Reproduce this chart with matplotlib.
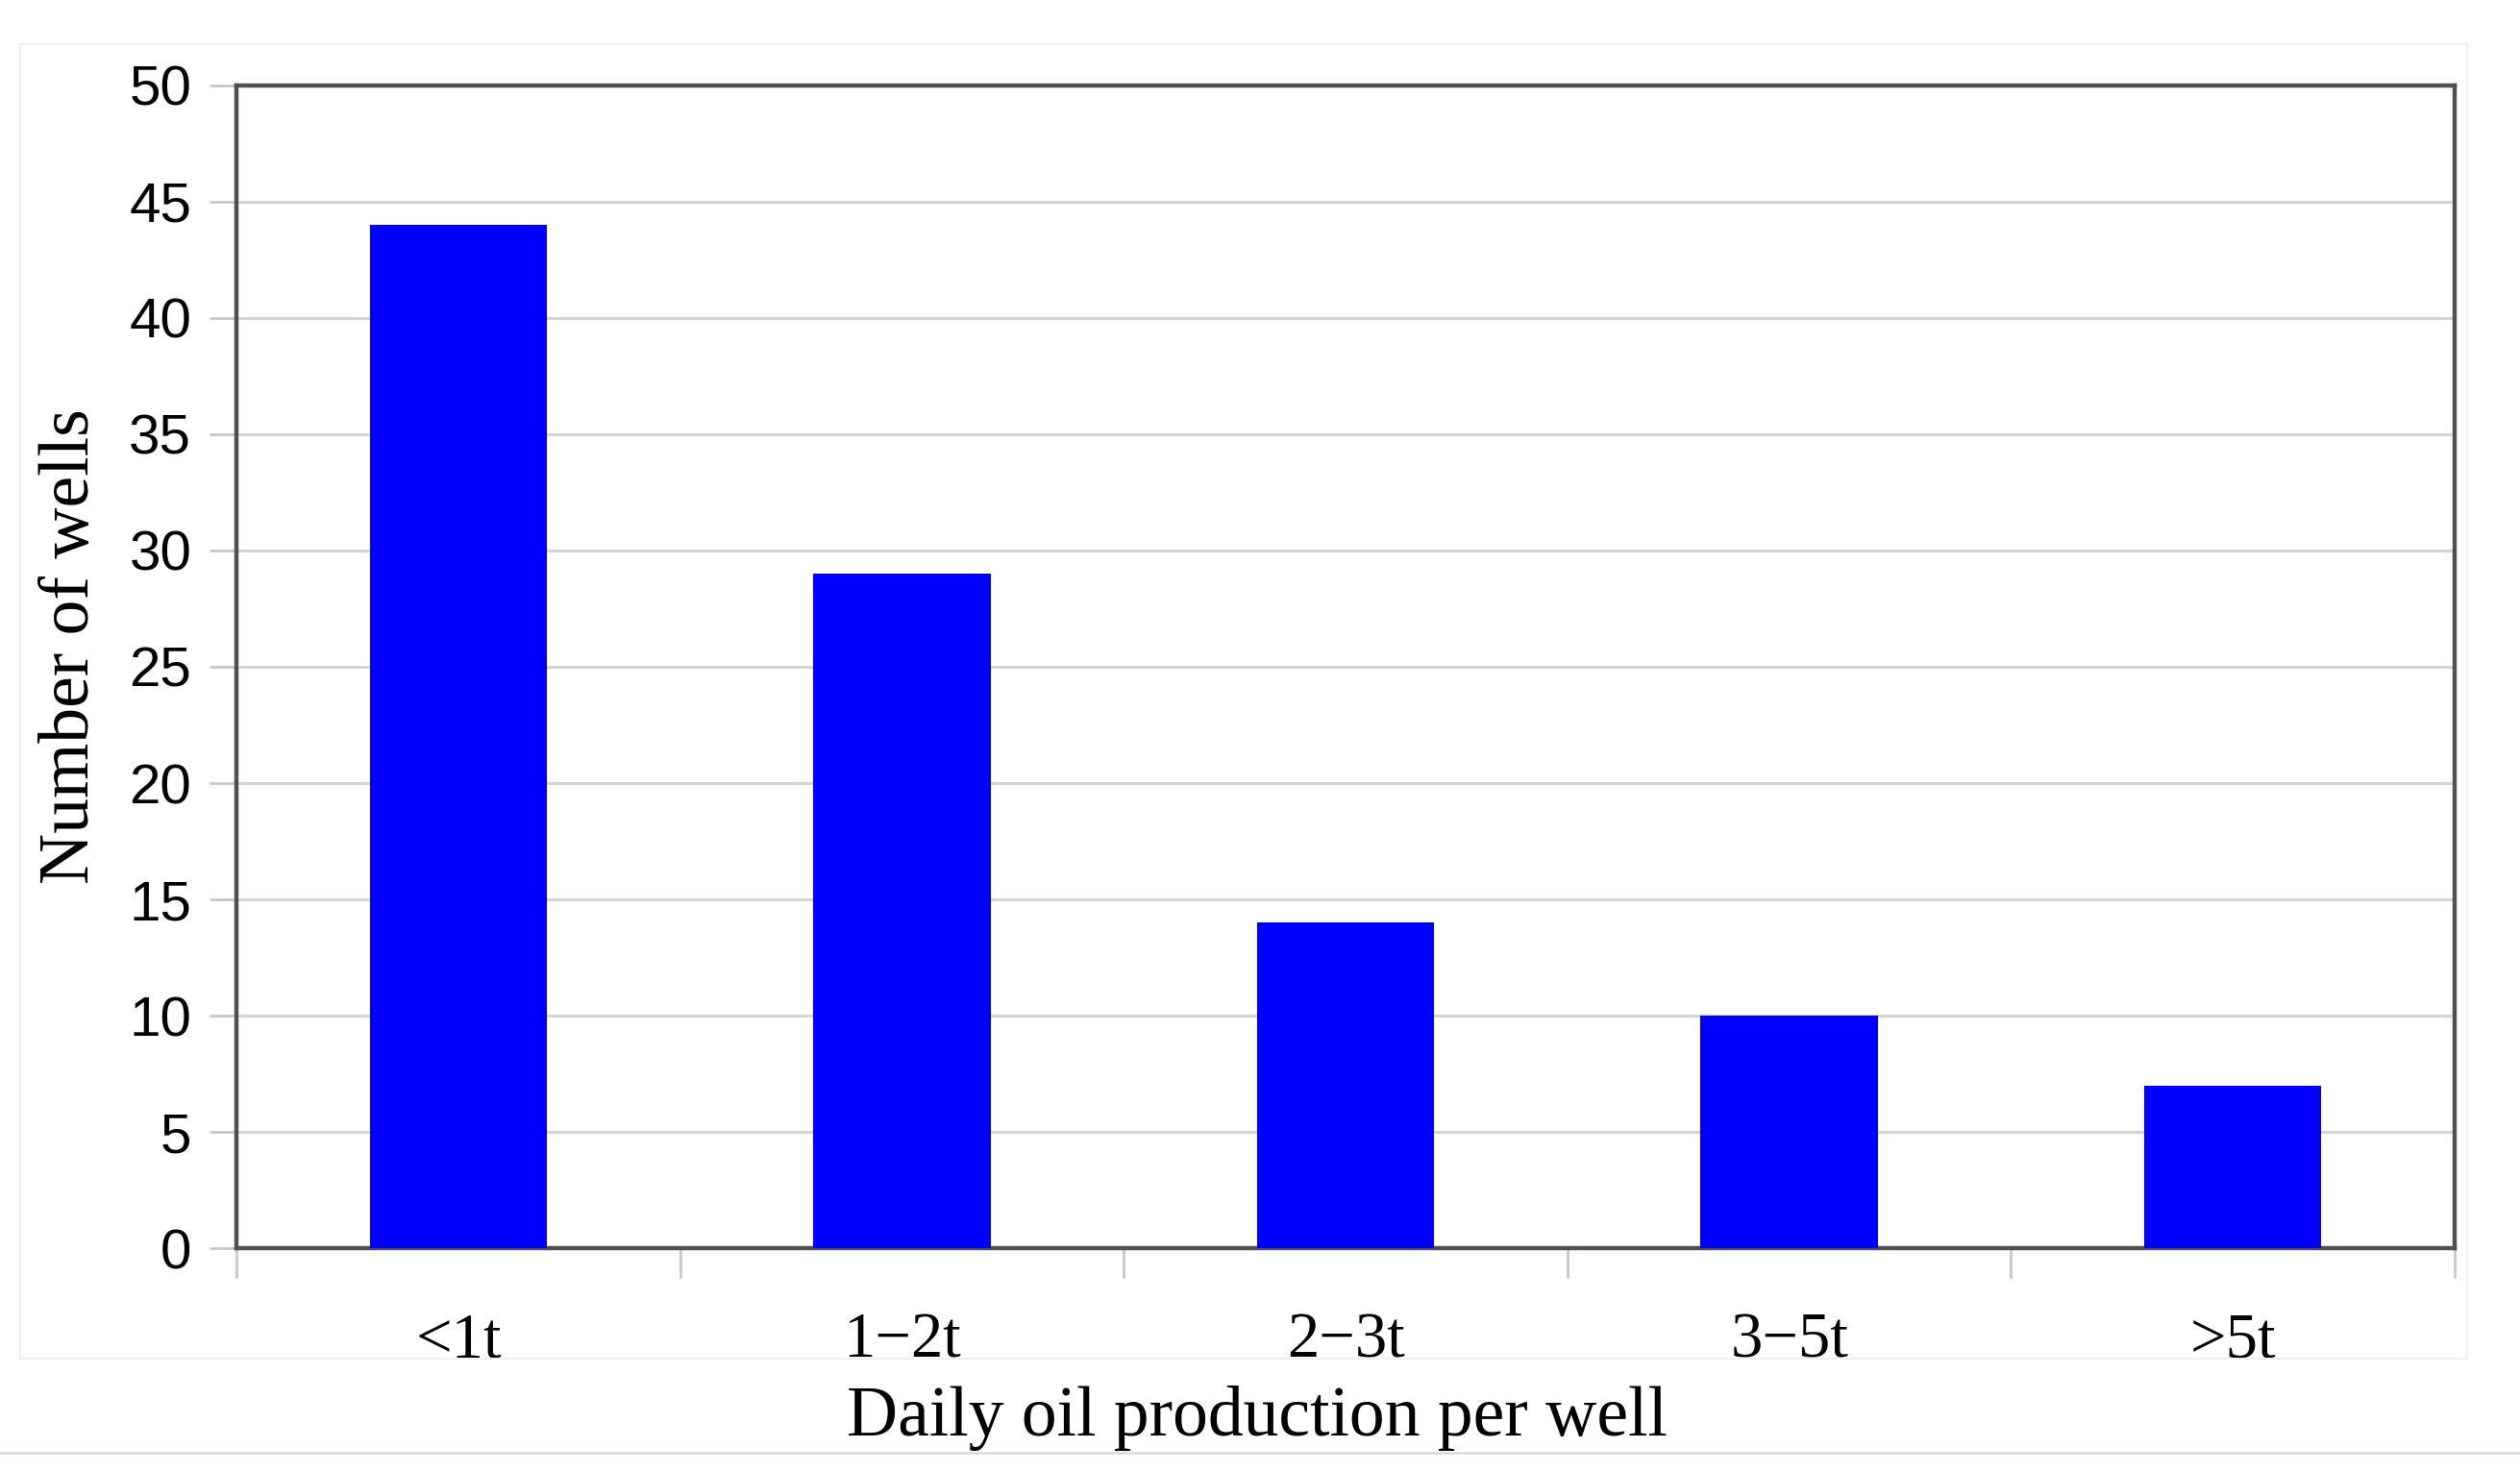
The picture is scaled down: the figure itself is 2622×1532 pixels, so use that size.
import matplotlib.pyplot as plt
import numpy as np
from matplotlib.lines import Line2D

# Data
categories = ["<1t", "1\u22122t", "2\u22123t", "3\u22125t", ">5t"]
wells = [44, 29, 14, 10, 7]
y_ticks = [0, 5, 10, 15, 20, 25, 30, 35, 40, 45, 50]

fig = plt.figure(figsize=(26.22, 15.32), dpi=100)
ax = fig.add_axes([0.094, 0.152, 0.880, 0.790])

x = np.arange(len(categories))
ax.bar(x, wells, width=0.4, color="#0000ff", zorder=3)

ax.set_xlim(-0.5, len(categories) - 0.5)
ax.set_ylim(0, 50)
ax.set_yticks(y_ticks)
ax.set_yticklabels([str(t) for t in y_ticks], family="Liberation Sans", fontsize=42)

# category labels at centres, tick marks at boundaries
ax.set_xticks(x)
ax.set_xticklabels(categories, family="Liberation Serif", fontsize=48)
ax.set_xticks(np.arange(len(categories) + 1) - 0.5, minor=True)
ax.tick_params(axis="x", which="major", length=0, pad=48)
ax.tick_params(axis="x", which="minor", length=22, width=2, color="#c8c8c8")
ax.tick_params(axis="y", length=20, width=2, color="#c8c8c8", pad=14)

ax.grid(axis="y", color="#d4d4d4", linewidth=2.2, zorder=0)
for s in ax.spines.values():
    s.set_color("#505050")
    s.set_linewidth(3.2)

ax.set_ylabel("Number of wells", family="Liberation Serif", fontsize=53)
ax.yaxis.set_label_coords(-0.06, 0.518)
ax.set_xlabel("Daily oil production per well", family="Liberation Serif",
              fontsize=53, labelpad=8)
ax.xaxis.set_label_coords(0.46, -0.118)

# faint frame of the original figure
fig.add_artist(Line2D([0.008, 0.008, 0.979, 0.979], [0.077, 0.97, 0.97, 0.077],
                      color="#f0f0f0", linewidth=1.5))
fig.add_artist(Line2D([0.008, 0.979], [0.077, 0.077], color="#f0f0f0", linewidth=1.5))
fig.add_artist(Line2D([0.0, 1.0], [0.013, 0.013], color="#dcdcdc", linewidth=2))

fig.savefig("out.png", dpi=100)
